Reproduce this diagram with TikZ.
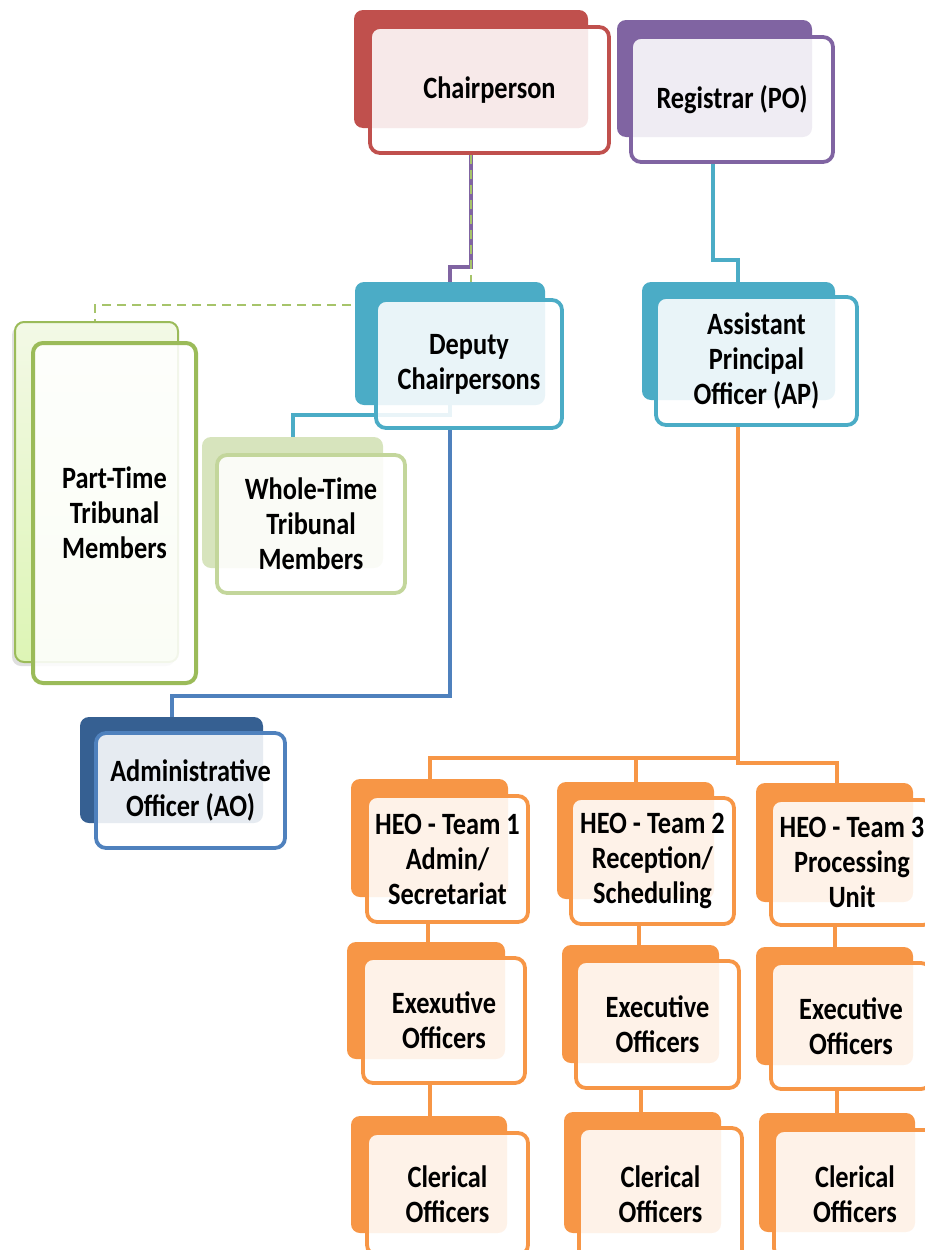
\documentclass[tikz,border=0pt]{standalone}
\usepackage{fontspec}
\setmainfont{Carlito}[FakeStretch=0.85]
\usetikzlibrary{backgrounds,shadows}
\definecolor{cred}{HTML}{C0504D}
\definecolor{cpurple}{HTML}{8064A2}
\definecolor{ccyan}{HTML}{4BACC6}
\definecolor{corange}{HTML}{F79646}
\definecolor{cgreen}{HTML}{9BBB59}
\definecolor{cdash}{HTML}{A6C46A}
\definecolor{clgreen}{HTML}{C3D69B}
\definecolor{cwback}{HTML}{D7E4BD}
\definecolor{cdblue}{HTML}{366092}
\definecolor{cblue}{HTML}{4F81BD}
\definecolor{cptop}{HTML}{F3F9E6}
\definecolor{cpbot}{HTML}{DDF5B5}
\begin{document}
\begin{tikzpicture}[x=1pt,y=-1pt,
  sz/.style 2 args={minimum width=#1pt, minimum height=#2pt},
  backbox/.style={rounded corners=9pt, inner sep=0pt, fill=#1},
  frontbox/.style={rounded corners=10pt, inner sep=0pt, draw=#1, line width=3.8pt,
    fill=white, fill opacity=0.88, text opacity=1, align=center,
    font=\bfseries\fontsize{31}{35}\selectfont},
  link/.style={line width=3.4pt, draw=#1},
  dashlink/.style={line width=2.6pt, draw=cdash, dash pattern=on 9pt off 6pt},
]
\useasboundingbox (0,0) rectangle (925,1250);

% ---------- top level ----------
\node[backbox=cred, sz={234}{118}] (chairB) at (471,69) {};
\node[frontbox=cred, sz={239}{126}] (chair) at (489.5,90) {Chairperson};
\node[backbox=cpurple, sz={195}{117}] (regB) at (714.5,78.5) {};
\node[frontbox=cpurple, sz={202}{125}] (reg) at (732,99.5) {Registrar (PO)};

% ---------- second level ----------
\node[backbox=ccyan, sz={190}{123}] (deputyB) at (450,343.5) {};
\node[frontbox=ccyan, sz={186}{128}] (deputy) at (469,364) {Deputy\\Chairpersons};
\node[backbox=ccyan, sz={193}{118}] (apB) at (738.5,341) {};
\node[frontbox=ccyan, sz={201}{128}] (ap) at (756.5,361) {Assistant\\Principal\\Officer (AP)};

% ---------- members ----------
\node[rounded corners=9pt, inner sep=0pt, top color=cptop, bottom color=cpbot,
      draw=cgreen, line width=2pt, sz={163}{340},
      drop shadow={shadow xshift=-3pt, shadow yshift=-4pt, opacity=0.25}]
      (partB) at (96.5,492) {};
\node[frontbox=cgreen, line width=4pt, sz={163}{340}] (part) at (114.5,513) {Part-Time\\Tribunal\\Members};
\node[backbox=cwback, sz={181}{131}] (wholeB) at (292.5,502.5) {};
\node[frontbox=clgreen, sz={188}{138}] (whole) at (311,524) {Whole-Time\\Tribunal\\Members};

% ---------- AO ----------
\node[backbox=cdblue, sz={183}{106}] (aoB) at (171.5,770) {};
\node[frontbox=cblue, sz={189}{115}] (ao) at (190.5,790.5) {Administrative\\Officer (AO)};

% ---------- HEO teams ----------
\node[backbox=corange, sz={157}{118}] (heo1B) at (429.5,838) {};
\node[frontbox=corange, sz={161}{126}] (heo1) at (447.5,859) {HEO - Team 1\\Admin/\\Secretariat};
\node[backbox=corange, sz={157}{117}] (heo2B) at (635.5,840.5) {};
\node[frontbox=corange, sz={163}{126}] (heo2) at (652.5,861) {HEO - Team 2\\Reception/\\Scheduling};
\node[backbox=corange, sz={157}{119}] (heo3B) at (834.5,842.5) {};
\node[frontbox=corange, sz={162}{125}] (heo3) at (852,862.5) {HEO - Team 3\\Processing\\Unit};

% ---------- executive officers ----------
\node[backbox=corange, sz={158}{117}] (exec1B) at (426,1000.5) {};
\node[frontbox=corange, sz={162}{125}] (exec1) at (444,1020.5) {Exexutive\\Officers};
\node[backbox=corange, sz={157}{118}] (exec2B) at (640.5,1004) {};
\node[frontbox=corange, sz={163}{127}] (exec2) at (657.5,1024.5) {Executive\\Officers};
\node[backbox=corange, sz={157}{118}] (exec3B) at (834.5,1006) {};
\node[frontbox=corange, sz={160}{126}] (exec3) at (851,1026) {Executive\\Officers};

% ---------- clerical officers ----------
\node[backbox=corange, sz={156}{117}] (cler1B) at (429,1174.5) {};
\node[frontbox=corange, sz={161}{122}] (cler1) at (447.5,1194) {Clerical\\Officers};
\node[backbox=corange, sz={157}{121}] (cler2B) at (642.5,1172.5) {};
\node[frontbox=corange, sz={163}{132}] (cler2) at (660.5,1194) {Clerical\\Officers};
\node[backbox=corange, sz={156}{119}] (cler3B) at (837,1172.5) {};
\node[frontbox=corange, sz={162}{128}] (cler3) at (855,1194) {Clerical\\Officers};

% ---------- helper coordinates ----------
\coordinate (xa) at (471,0);
\coordinate (xb) at (450,0);
\coordinate (xc) at (713,0);
\coordinate (xd) at (738,0);
\coordinate (bendP) at (450,267);
\coordinate (bendG) at (95,305);
\coordinate (bendR) at (738,260);
\coordinate (bendW) at (293,415);
\coordinate (bendA) at (172,696);
\coordinate (bendH1) at (430,758);
\coordinate (bendH2) at (636,758);
\coordinate (bendH3) at (837,763);
\coordinate (r1) at (428,0);
\coordinate (r2) at (639,0);
\coordinate (r3) at (835,0);
\coordinate (s1) at (430,0);
\coordinate (s2) at (641,0);
\coordinate (s3) at (837,0);

% ---------- connectors ----------
\begin{scope}[on background layer]
  \draw[link=cpurple] (chair.south -| xa) |- (bendP) -- (deputyB.north -| bendP);
  \draw[dashlink] (chair.south -| xa) |- (bendG) -- (partB.north -| bendG);
  \draw[link=ccyan] (reg.south -| xc) |- (bendR) -- (apB.north -| bendR);
  \draw[link=ccyan] (deputyB.south -| xb) |- (bendW) -- (wholeB.north -| bendW);
  \draw[link=cblue] (deputy.south -| xb) |- (bendA) -- (aoB.north -| bendA);
  \draw[link=corange] (ap.south -| xd) |- (bendH1) -- (heo1B.north -| bendH1);
  \draw[link=corange] (ap.south -| xd) |- (bendH2) -- (heo2B.north -| bendH2);
  \draw[link=corange] (ap.south -| xd) |- (bendH3) -- (heo3B.north -| bendH3);
  \draw[link=corange] (heo1.south -| r1) -- (exec1B.north -| r1);
  \draw[link=corange] (heo2.south -| r2) -- (exec2B.north -| r2);
  \draw[link=corange] (heo3.south -| r3) -- (exec3B.north -| r3);
  \draw[link=corange] (exec1.south -| s1) -- (cler1B.north -| s1);
  \draw[link=corange] (exec2.south -| s2) -- (cler2B.north -| s2);
  \draw[link=corange] (exec3.south -| s3) -- (cler3B.north -| s3);
\end{scope}
\end{tikzpicture}
\end{document}
